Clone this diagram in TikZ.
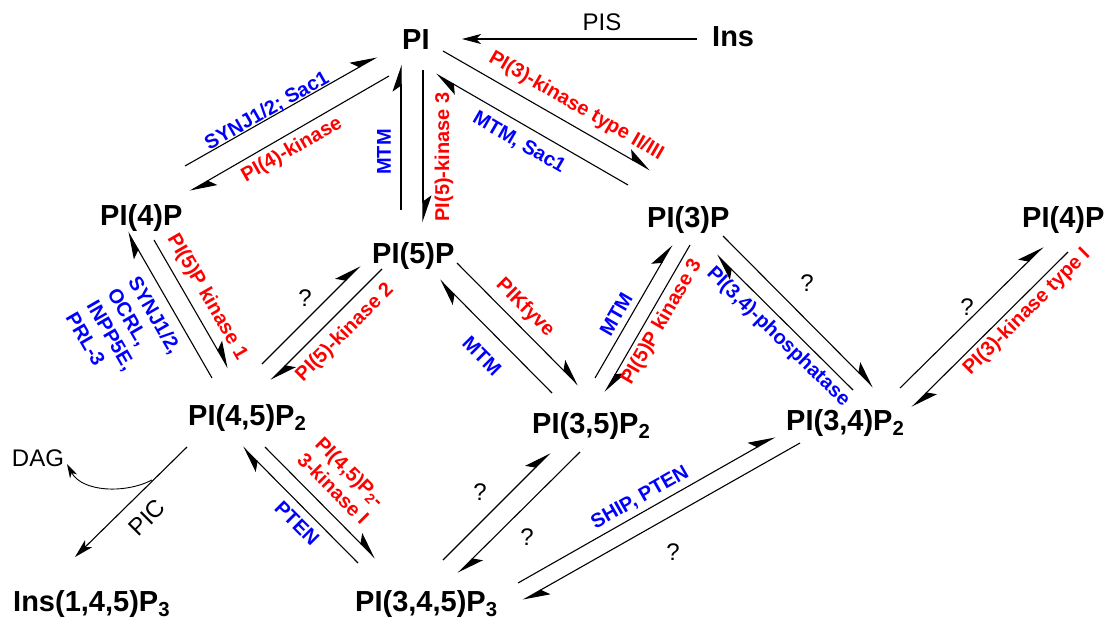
\documentclass[tikz,border=0pt]{standalone}
\usepackage{fontspec}
\setmainfont{Liberation Sans}
\usetikzlibrary{arrows.meta}
\begin{document}
\begin{tikzpicture}[x=1pt,y=-1pt,
  mol/.style={font=\fontsize{29}{31}\selectfont\bfseries, inner sep=0pt, anchor=base west},
  enz/.style={font=\fontsize{20}{24}\selectfont\bfseries, inner sep=0pt},
  rlab/.style={enz, text=red},
  blab/.style={enz, text=blue},
  plain/.style={font=\fontsize{24}{26}\selectfont, inner sep=0pt},
  rx/.style={line width=1.1pt, -{Stealth[harpoon, length=25pt, width=17pt, inset=6pt]}},
  fx/.style={line width=1.1pt, -{Stealth[length=19pt, width=10pt, inset=5pt]}},
]
\useasboundingbox (0,0) rectangle (1110,626);
% compounds
\node[mol] (PI) at (402,50) {PI};
\node[mol] (Ins) at (712,47) {Ins};
\node[mol] (PI4P) at (100,225) {PI(4)P};
\node[mol] (PI5P) at (372,263) {PI(5)P};
\node[mol] (PI3P) at (647,227) {PI(3)P};
\node[mol] (PI4Pr) at (1022,227) {PI(4)P};
\node[mol] (PI45P2) at (188,425) {PI(4,5)P\textsubscript{2}};
\node[mol] (PI35P2) at (532,433) {PI(3,5)P\textsubscript{2}};
\node[mol] (PI34P2) at (786,430) {PI(3,4)P\textsubscript{2}};
\node[mol] (IP3) at (13,611) {Ins(1,4,5)P\textsubscript{3}};
\node[mol] (PIP3) at (355,611) {PI(3,4,5)P\textsubscript{3}};
% arrow end points
\coordinate (a1s) at (185,166); \coordinate (a1e) at (377,57);
\coordinate (a2s) at (389,76);  \coordinate (a2e) at (190,191);
\coordinate (a3s) at (401,210); \coordinate (a3e) at (401,65);
\coordinate (a4s) at (423,70);  \coordinate (a4e) at (423,222);
\coordinate (a5s) at (697,39);  \coordinate (a5e) at (462,39);
\coordinate (a6s) at (443,51);  \coordinate (a6e) at (650,170);
\coordinate (a7s) at (628,185); \coordinate (a7e) at (436,74);
\coordinate (a8s) at (212,378); \coordinate (a8e) at (128,232);
\coordinate (a9s) at (154,240); \coordinate (a9e) at (228,368);
\coordinate (a10s) at (262,364); \coordinate (a10e) at (360,266);
\coordinate (a11s) at (382,269); \coordinate (a11e) at (271,380);
\coordinate (a12s) at (457,263); \coordinate (a12e) at (578,385);
\coordinate (a13s) at (552,393); \coordinate (a13e) at (440,280);
\coordinate (a14s) at (595,378); \coordinate (a14e) at (672,245);
\coordinate (a15s) at (690,245); \coordinate (a15e) at (605,392);
\coordinate (a16s) at (853,390); \coordinate (a16e) at (717,255);
\coordinate (a17s) at (723,236); \coordinate (a17e) at (873,387);
\coordinate (a18s) at (900,388); \coordinate (a18e) at (1043,247);
\coordinate (a19s) at (1068,252); \coordinate (a19e) at (912,407);
\coordinate (a20s) at (187,447); \coordinate (a20e) at (75,557);
\coordinate (a21s) at (152,480); \coordinate (a21e) at (67,464);
\coordinate (a22s) at (265,447); \coordinate (a22e) at (375,558);
\coordinate (a23s) at (358,563); \coordinate (a23e) at (243,447);
\coordinate (a24s) at (443,560); \coordinate (a24e) at (550,453);
\coordinate (a25s) at (580,452); \coordinate (a25e) at (458,573);
\coordinate (a26s) at (518,583); \coordinate (a26e) at (775,437);
\coordinate (a27s) at (800,443); \coordinate (a27e) at (523,600);
% connectors
\draw[rx] (a1s) -- (a1e);
\draw[rx] (a2s) -- (a2e);
\draw[rx] (a3s) -- (a3e);
\draw[rx] (a4s) -- (a4e);
\draw[fx] (a5s) -- (a5e);
\draw[rx] (a6s) -- (a6e);
\draw[rx] (a7s) -- (a7e);
\draw[rx] (a8s) -- (a8e);
\draw[rx] (a9s) -- (a9e);
\draw[rx] (a10s) -- (a10e);
\draw[rx] (a11s) -- (a11e);
\draw[rx] (a12s) -- (a12e);
\draw[rx] (a13s) -- (a13e);
\draw[rx] (a14s) -- (a14e);
\draw[rx] (a15s) -- (a15e);
\draw[rx] (a16s) -- (a16e);
\draw[rx] (a17s) -- (a17e);
\draw[rx] (a18s) -- (a18e);
\draw[rx] (a19s) -- (a19e);
\draw[fx] (a20s) -- (a20e);
\draw[line width=0.9pt, -{Stealth[length=14pt, width=8pt, inset=4pt]}] (a21s) .. controls (125,494) and (82,492) .. (a21e);
\draw[rx] (a22s) -- (a22e);
\draw[rx] (a23s) -- (a23e);
\draw[rx] (a24s) -- (a24e);
\draw[rx] (a25s) -- (a25e);
\draw[rx] (a26s) -- (a26e);
\draw[rx] (a27s) -- (a27e);
% labels
\node[plain] (lPIS) at (602,22) {PIS};
\node[blab, rotate=29.6] (l1) at (267,111) {SYNJ1/2; Sac1};
\node[rlab, rotate=29.6] (l2) at (292,150) {PI(4)-kinase};
\node[blab, rotate=90] (l3) at (384,152) {MTM};
\node[rlab, rotate=90] (l4) at (444,157) {PI(5)-kinase 3};
\node[rlab, rotate=-30] (l6) at (576,106) {PI(3)-kinase type II/III};
\node[blab, rotate=-30] (l7) at (519,143) {MTM, Sac1};
\node[rlab, rotate=-60] (l9) at (207,297) {PI(5)P kinase 1};
\node[blab, rotate=-60, align=left] (l8) at (124,333) {SYNJ1/2,\\OCRL,\\INPP5E,\\PRL-3};
\node[plain] (l10) at (305,298) {?};
\node[rlab, rotate=45] (l11) at (345,333) {PI(5)-kinase 2};
\node[rlab, rotate=-45] (l12) at (525,308) {PIKfyve};
\node[blab, rotate=-45] (l13) at (482,356) {MTM};
\node[blab, rotate=60] (l14) at (616,314) {MTM};
\node[rlab, rotate=60] (l15) at (662,322) {PI(5)P kinase 3};
\node[blab, rotate=-44] (l16) at (778,337) {PI(3,4)-phosphatase};
\node[plain] (l17) at (807,283) {?};
\node[plain] (l18) at (967,307) {?};
\node[rlab, rotate=45] (l19) at (1027,312) {PI(3)-kinase type I};
\node[plain] (lDAG) at (38,458) {DAG};
\node[plain, rotate=45] (l20) at (147,518) {PIC};
\node[blab, rotate=-45] (l23) at (297,523) {PTEN};
\node[rlab, rotate=-45, align=center] (l22) at (342,480) {PI(4,5)P\textsubscript{2}-\\3-kinase I};
\node[plain] (l24) at (480,492) {?};
\node[plain] (l25) at (527,537) {?};
\node[blab, rotate=29.6] (l26) at (640,498) {SHIP, PTEN};
\node[plain] (l27) at (673,552) {?};
\end{tikzpicture}
\end{document}
